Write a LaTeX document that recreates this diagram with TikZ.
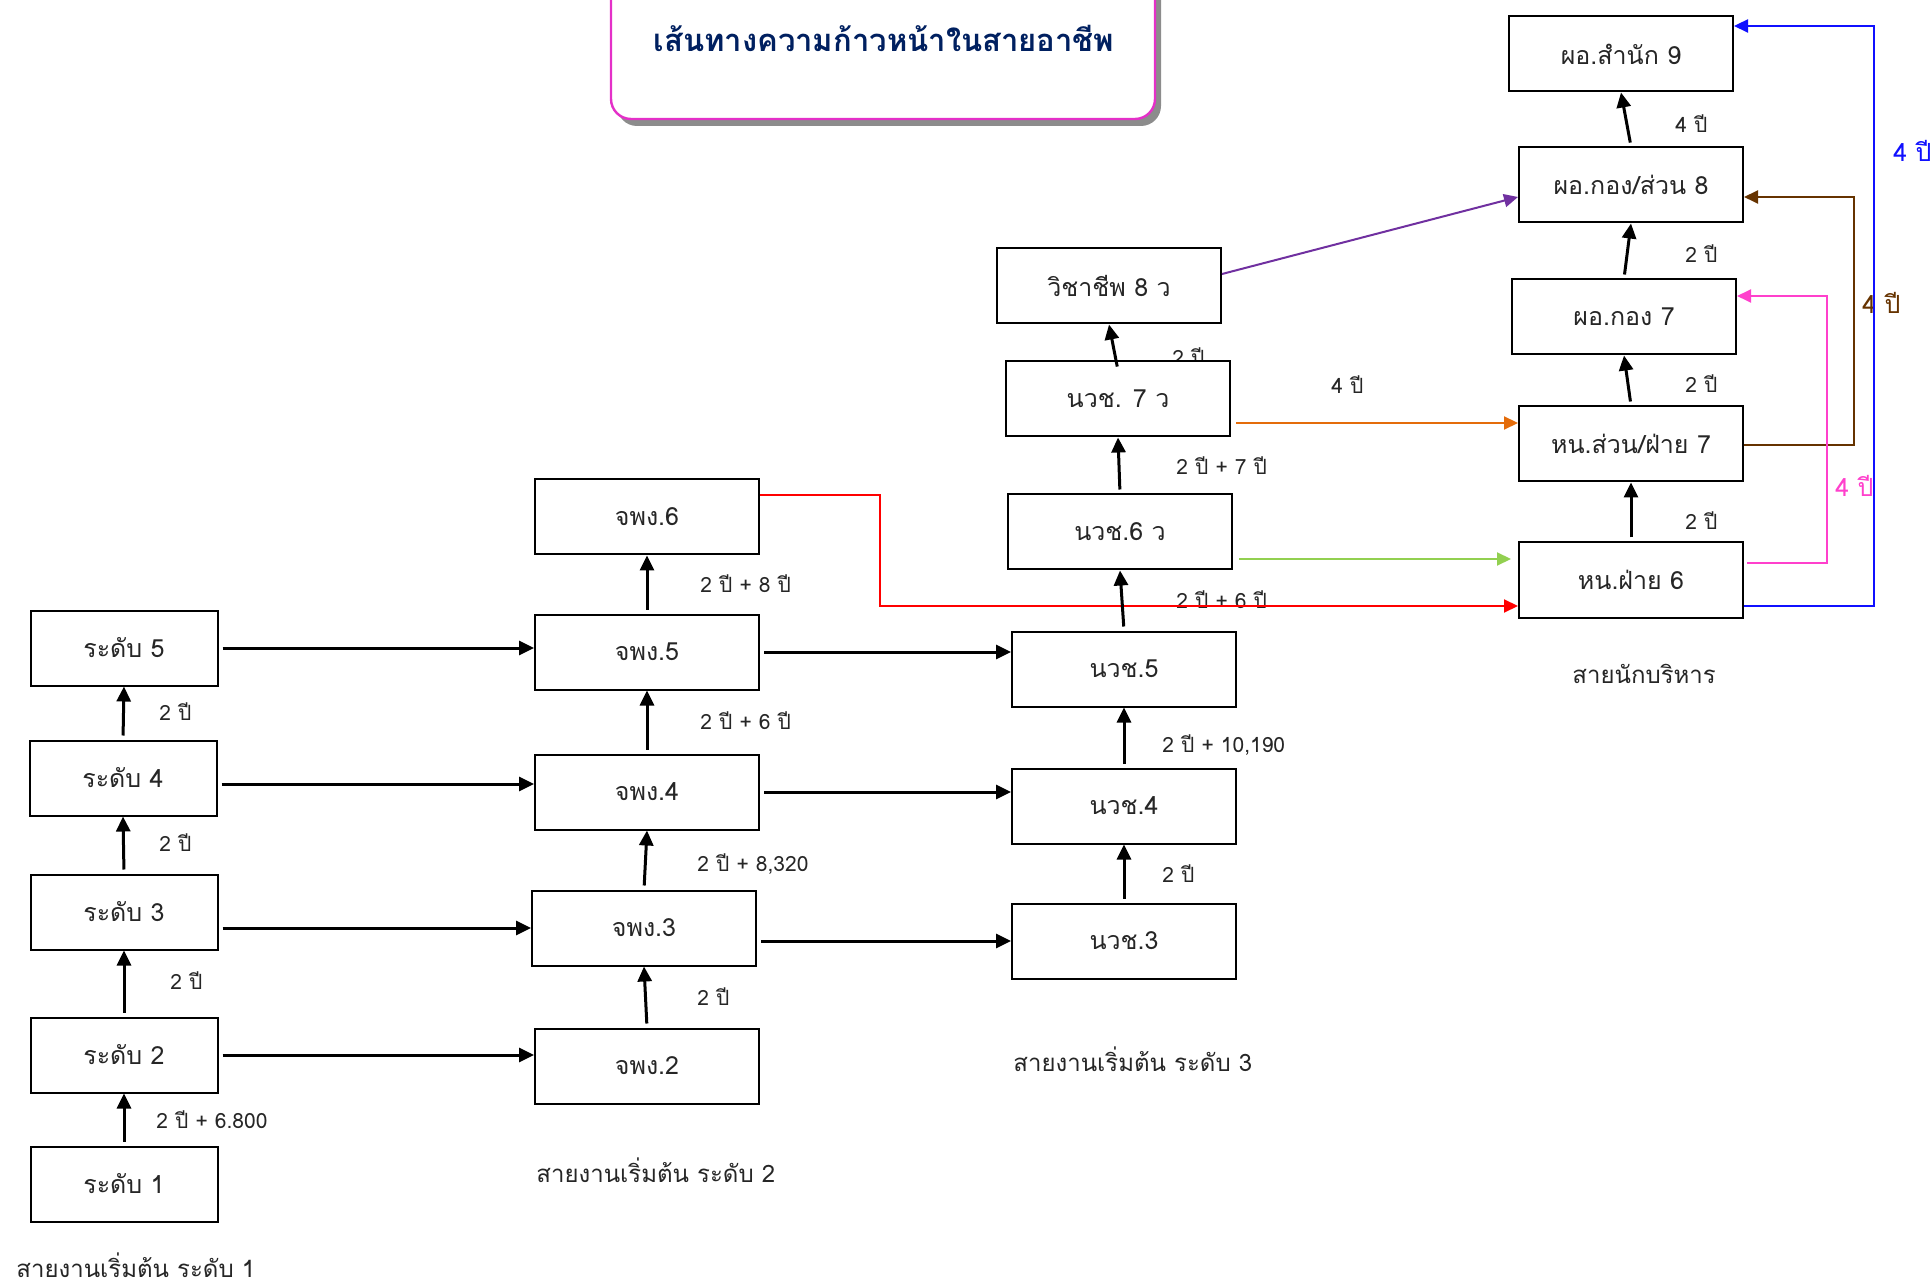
\documentclass[tikz,border=0pt]{standalone}
\usepackage{fontspec}
\setmainfont{Loma}[Script=Thai]
\usetikzlibrary{arrows.meta}
\definecolor{titleblue}{RGB}{0,32,96}
\definecolor{titlepink}{RGB}{228,48,200}
\definecolor{lineorange}{RGB}{228,108,10}
\definecolor{linegreen}{RGB}{146,208,80}
\definecolor{linebrown}{RGB}{102,51,0}
\definecolor{linepink}{RGB}{255,64,204}
\definecolor{linepurple}{RGB}{112,48,160}
\definecolor{lineblue}{RGB}{16,16,255}

\begin{document}
\begin{tikzpicture}[x=0.5pt, y=-0.5pt,
  box/.style={draw, fill=white, line width=1pt, minimum width=112pt, minimum height=37.5pt,
    inner sep=2pt, text=black!85, font=\fontsize{12.5}{15}\selectfont},
  lowbox/.style={box, minimum width=93.5pt},
  lbl/.style={anchor=base west, inner sep=0pt, text=black!85, font=\fontsize{10.5}{13}\selectfont},
  sec/.style={anchor=base west, inner sep=0pt, text=black!85, font=\fontsize{12}{15}\selectfont},
  up/.style={-{Triangle[length=7.5pt,width=7pt]}, line width=1.5pt, shorten <=2pt},
  link/.style={-{Triangle[length=7pt,width=6.5pt]}, line width=1pt}
]
\useasboundingbox (0,0) rectangle (1932,1288);

% title
\fill[gray!90, rounded corners=10pt] (617,-30) rectangle (1161,126);
\draw[titlepink, line width=1.2pt, fill=white, rounded corners=10pt] (611,-30) rectangle (1155,119);
\node[text=titleblue, font=\fontsize{15.5}{19}\selectfont\bfseries] (title) at (884,38) {เส้นทางความก้าวหน้าในสายอาชีพ};

% labels
\node[lbl] (l12) at (156,1128) {2 ปี + 6.800};
\node[lbl] (l23) at (170,989) {2 ปี};
\node[lbl] (l34) at (159,851) {2 ปี};
\node[lbl] (l45) at (159,720) {2 ปี};
\node[lbl] (lj23) at (697,1005) {2 ปี};
\node[lbl] (lj34) at (697,871) {2 ปี + 8,320};
\node[lbl] (lj45) at (700,729) {2 ปี + 6 ปี};
\node[lbl] (lj56) at (700,592) {2 ปี + 8 ปี};
\node[lbl] (ln34) at (1162,882) {2 ปี};
\node[lbl] (ln45) at (1162,752) {2 ปี + 10,190};
\node[lbl] (ln56) at (1176,608) {2 ปี + 6 ปี};
\node[lbl] (ln67) at (1176,475) {2 ปี + 7 ปี};
\node[lbl] (ln78) at (1172,366) {2 ปี};
\node[lbl] (lorange) at (1331,394) {4 ปี};
\node[lbl] (lh67) at (1685,530) {2 ปี};
\node[lbl] (lh7d7) at (1685,393) {2 ปี};
\node[lbl] (ld78) at (1685,263) {2 ปี};
\node[lbl] (ld89) at (1675,133) {4 ปี};
\node[lbl, text=linepink, font=\fontsize{12.5}{15}\selectfont] (lpink) at (1835,497) {4 ปี};
\node[lbl, text=linebrown, font=\fontsize{12.5}{15}\selectfont] (lbrown) at (1862,314) {4 ปี};
\node[lbl, text=lineblue, font=\fontsize{12.5}{15}\selectfont] (lblue) at (1893,162) {4 ปี};

\node[sec] (sec1) at (16,1277) {สายงานเริ่มต้น ระดับ 1};
\node[sec] (sec2) at (536,1182) {สายงานเริ่มต้น ระดับ 2};
\node[sec] (sec3) at (1013,1071) {สายงานเริ่มต้น ระดับ 3};
\node[sec] (sec4) at (1572,683) {สายนักบริหาร};

% boxes
\node[lowbox] (r1) at (124,1184) {ระดับ 1};
\node[lowbox] (r2) at (124,1055) {ระดับ 2};
\node[lowbox] (r3) at (124,912) {ระดับ 3};
\node[lowbox] (r4) at (123,778) {ระดับ 4};
\node[lowbox] (r5) at (124,648) {ระดับ 5};

\node[box] (j2) at (647,1066) {จพง.2};
\node[box] (j3) at (644,928) {จพง.3};
\node[box] (j4) at (647,792) {จพง.4};
\node[box] (j5) at (647,652) {จพง.5};
\node[box] (j6) at (647,517) {จพง.6};

\node[box] (n3) at (1124,941) {นวช.3};
\node[box] (n4) at (1124,806) {นวช.4};
\node[box] (n5) at (1124,669) {นวช.5};
\node[box] (n6) at (1120,532) {นวช.6 ว};
\node[box] (n7) at (1118,399) {นวช. 7 ว};
\node[box] (v8) at (1109,286) {วิชาชีพ 8 ว};

\node[box] (h6) at (1631,580) {หน.ฝ่าย 6};
\node[box] (h7) at (1631,444) {หน.ส่วน/ฝ่าย 7};
\node[box] (d7) at (1624,317) {ผอ.กอง 7};
\node[box] (d8) at (1631,185) {ผอ.กอง/ส่วน 8};
\node[box] (d9) at (1621,54) {ผอ.สำนัก 9};

% coloured links
\draw[link, red] ([yshift=11pt]j6.east) -- ++(60pt,0) |- ([yshift=-13pt]h6.west);
\draw[link, linepurple] ([yshift=6pt]v8.east) -- ([yshift=-6pt]d8.west);
\draw[link, lineorange] ([xshift=2.5pt,yshift=-12pt]n7.east) coordinate (o) -- (o -| h7.west);
\draw[link, linegreen, shorten >=3.5pt] ([xshift=3pt,yshift=-13.5pt]n6.east) coordinate (g) -- (g -| h6.west);
\draw[link, linebrown] ([yshift=-0.5pt]h7.east) -- ++(55pt,0) |- ([yshift=-6pt]d8.east);
\draw[link, linepink] ([xshift=1.5pt,yshift=8.5pt]h6.east) -- ++(40pt,0) |- ([yshift=10.5pt]d7.east);
\draw[link, lineblue, line width=1.2pt] ([yshift=-13pt]h6.east) -- ++(65pt,0) |- ([yshift=14pt]d9.east);

% black arrows
\draw[up] (r5.east) -- (r5.east -| j5.west);
\draw[up] ([yshift=-3pt]r4.east) -- ([yshift=-3pt]r4.east -| j4.west);
\draw[up] (r3.east |- j3.west) -- (j3.west);
\draw[up] (r2.east) -- (r2.east -| j2.west);
\draw[up] (j5.east) -- (j5.east -| n5.west);
\draw[up] (j4.east) -- (j4.east -| n4.west);
\draw[up] (j3.east |- n3.west) -- (n3.west);

\draw[up] (r1.north) -- (r2.south);
\draw[up] (r2.north) -- (r3.south);
\draw[up] (r3.north) -- (r4.south);
\draw[up] (r4.north) -- (r5.south);
\draw[up] (j2.north) -- (j3.south);
\draw[up] (j3.north) -- (j4.south);
\draw[up] (j4.north) -- (j5.south);
\draw[up] (j5.north) -- (j6.south);
\draw[up] (n3.north) -- (n4.south);
\draw[up] (n4.north) -- (n5.south);
\draw[up] (n5.north) -- (n6.south);
\draw[up] (n6.north) -- (n7.south);
\draw[up] ([yshift=-5pt]n7.north) -- (v8.south);
\draw[up] (h6.north) -- (h7.south);
\draw[up] (h7.north) -- (d7.south);
\draw[up] (d7.north) -- (d8.south);
\draw[up] (d8.north) -- (d9.south);
\end{tikzpicture}
\end{document}
